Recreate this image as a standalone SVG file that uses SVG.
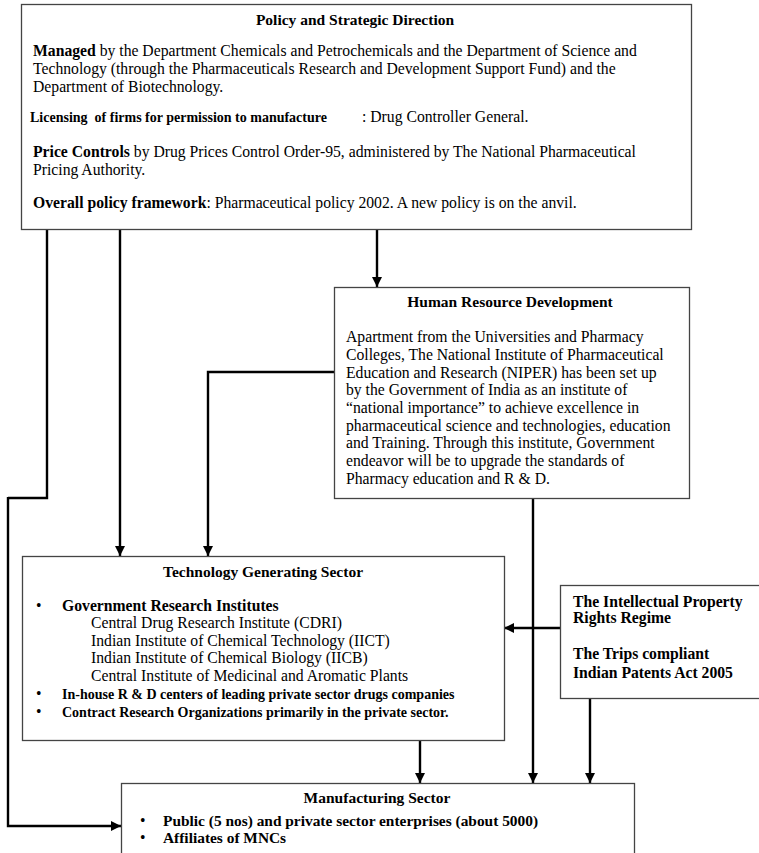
<svg xmlns="http://www.w3.org/2000/svg" width="759" height="853" viewBox="0 0 759 853">
<style>
.box{fill:#fff;stroke:#444;stroke-width:1.3}
text{font-family:"Liberation Serif","Times New Roman",serif;fill:#000}
.t{font-size:15.7px}
.b{font-weight:bold}
.h{font-size:15.5px;font-weight:bold;text-anchor:middle}
.s{font-size:14px;font-weight:bold}
.m{font-size:15.4px;font-weight:bold}
.c{fill:none;stroke:#000;stroke-width:2.4}
</style>
<defs>
<marker id="ah" viewBox="0 0 10 10" refX="10" refY="5" markerWidth="10" markerHeight="10" markerUnits="userSpaceOnUse" orient="auto"><path d="M0,0 L10,5 L0,10 z" fill="#000"/></marker>
</defs>
<g id="connectors">
<path class="c" d="M377,230 V287" marker-end="url(#ah)"/>
<path class="c" d="M120,230 V556" marker-end="url(#ah)"/>
<path class="c" d="M47,230 V498 H8" stroke-width="3"/>
<path class="c" d="M8,497 V826 H121" stroke-width="2" marker-end="url(#ah)"/>
<path class="c" d="M335,372 H208 V556" marker-end="url(#ah)"/>
<path class="c" d="M533,499 V783" marker-end="url(#ah)"/>
<path class="c" d="M560,628 H504" marker-end="url(#ah)"/>
<path class="c" d="M590,698 V783" marker-end="url(#ah)"/>
<path class="c" d="M420,741 V783" marker-end="url(#ah)"/>
</g>
<g id="policy">
<rect class="box" x="21.5" y="4.5" width="670" height="225"/>
<text class="h" x="355" y="25">Policy and Strategic Direction</text>
<text class="t" x="33" y="56"><tspan class="b">Managed</tspan> by the Department Chemicals and Petrochemicals and the Department of Science and</text>
<text class="t" x="33" y="74">Technology (through the Pharmaceuticals Research and Development Support Fund) and the</text>
<text class="t" x="33" y="92">Department of Biotechnology.</text>
<text class="s" x="30" y="122" xml:space="preserve">Licensing  of firms for permission to manufacture</text>
<text class="t" x="362" y="122">: Drug Controller General.</text>
<text class="t" x="33" y="157"><tspan class="b">Price Controls</tspan> by Drug Prices Control Order-95, administered by The National Pharmaceutical</text>
<text class="t" x="33" y="175">Pricing Authority.</text>
<text class="t" x="33" y="208"><tspan class="b">Overall policy framework</tspan>: Pharmaceutical policy 2002. A new policy is on the anvil.</text>
</g>
<g id="hrd">
<rect class="box" x="334.5" y="287.5" width="355" height="211"/>
<text class="h" x="510" y="307">Human Resource Development</text>
<text class="t" x="346" y="342">Apartment from the Universities and Pharmacy</text>
<text class="t" x="346" y="360">Colleges, The National Institute of Pharmaceutical</text>
<text class="t" x="346" y="378">Education and Research (NIPER) has been set up</text>
<text class="t" x="346" y="395">by the Government of India as an institute of</text>
<text class="t" x="346" y="413">“national importance” to achieve excellence in</text>
<text class="t" x="346" y="431">pharmaceutical science and technologies, education</text>
<text class="t" x="346" y="448">and Training. Through this institute, Government</text>
<text class="t" x="346" y="466">endeavor will be to upgrade the standards of</text>
<text class="t" x="346" y="484">Pharmacy education and R &amp; D.</text>
</g>
<g id="tech">
<rect class="box" x="22.5" y="556.5" width="482" height="184"/>
<text class="h" x="263" y="577">Technology Generating Sector</text>
<text class="t" x="36" y="611">•</text>
<text class="t b" x="62" y="611">Government Research Institutes</text>
<text class="t" x="91" y="628">Central Drug Research Institute (CDRI)</text>
<text class="t" x="91" y="646">Indian Institute of Chemical Technology (IICT)</text>
<text class="t" x="91" y="663">Indian Institute of Chemical Biology (IICB)</text>
<text class="t" x="91" y="681">Central Institute of Medicinal and Aromatic Plants</text>
<text class="t" x="36" y="699">•</text>
<text class="s" x="62" y="699">In-house R &amp; D centers of leading private sector drugs companies</text>
<text class="t" x="36" y="717">•</text>
<text class="s" x="62" y="717">Contract Research Organizations primarily in the private sector.</text>
</g>
<g id="ipr">
<rect class="box" x="560.5" y="585.5" width="205" height="113"/>
<text class="t b" x="573" y="607">The Intellectual Property</text>
<text class="t b" x="573" y="623">Rights Regime</text>
<text class="t b" x="573" y="659">The Trips compliant</text>
<text class="t b" x="573" y="678">Indian Patents Act 2005</text>
</g>
<g id="manufacturing">
<rect class="box" x="121.5" y="783.5" width="513" height="80"/>
<text class="h" x="377" y="803">Manufacturing Sector</text>
<text class="t" x="140" y="826">•</text>
<text class="m" x="163" y="826">Public (5 nos) and private sector enterprises (about 5000)</text>
<text class="t" x="140" y="843">•</text>
<text class="m" x="163" y="843">Affiliates of MNCs</text>
</g>
</svg>
